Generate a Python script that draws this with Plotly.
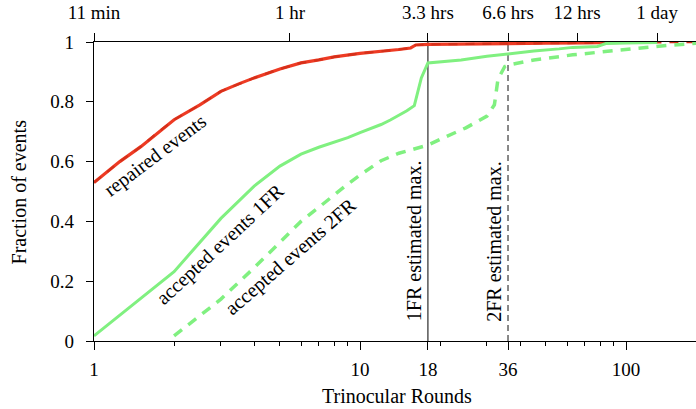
import plotly.graph_objects as go
import math

# ---- data ----
red_x = [1, 1.25, 1.5, 1.75, 2, 2.5, 3, 3.5, 4, 5, 6, 7, 8, 10, 12, 14, 15.5, 16.2, 18, 25, 36, 50, 70, 90, 110, 131]
red_y = [0.53, 0.60, 0.65, 0.70, 0.74, 0.79, 0.835, 0.86, 0.88, 0.91, 0.93, 0.94, 0.95, 0.962, 0.968, 0.975, 0.98, 0.99, 0.992, 0.994, 0.995, 0.996, 0.997, 0.998, 0.999, 1.0]
red2_x = red_x + [160, 200]
red2_y = red_y + [1.0, 1.0]

acc1_x = [1, 2, 3, 4, 5, 6, 7, 8, 9, 10, 11, 12, 13, 14, 15, 16, 17, 18, 24, 30, 36, 45, 56, 63, 78, 84, 100, 131]
acc1_y = [0.017, 0.232, 0.41, 0.518, 0.585, 0.625, 0.648, 0.665, 0.68, 0.697, 0.71, 0.724, 0.739, 0.755, 0.77, 0.787, 0.88, 0.93, 0.94, 0.952, 0.961, 0.97, 0.977, 0.982, 0.985, 0.995, 0.997, 0.998]

acc2_x = [2, 3, 4, 5, 6, 7, 8, 9, 10, 12, 14, 18, 21, 25, 30, 32, 33, 35, 36, 45, 63, 90, 126, 150, 200]
acc2_y = [0.017, 0.14, 0.245, 0.33, 0.40, 0.447, 0.49, 0.525, 0.555, 0.603, 0.628, 0.655, 0.683, 0.713, 0.752, 0.79, 0.875, 0.918, 0.923, 0.94, 0.957, 0.972, 0.984, 0.99, 0.998]

x_major = [1, 10, 18, 36, 100]
x_minor = [2, 3, 4, 5, 6, 7, 8, 9, 20, 30, 40, 50, 60, 70, 80, 90, 200]
y_ticks = [0, 0.2, 0.4, 0.6, 0.8, 1]
y_labels = ["0", "0.2", "0.4", "0.6", "0.8", "1"]
top_vals = [1, 60 / 11, 18, 36, 720 / 11, 1440 / 11]
top_text = ["11 min", "1 hr", "3.3 hrs", "6.6 hrs", "12 hrs", "1 day"]
est_max = [18, 36]

FONT = "Liberation Serif"
RED = "#EE3B24"
RED_D = "#D5301A"
GREEN = "#80F080"
XR = [0, 2.263]

fig = go.Figure()

# estimated max lines
fig.add_trace(go.Scatter(x=[est_max[0], est_max[0]], y=[0, 1], mode="lines",
                         line=dict(color="black", width=1), hoverinfo="skip", showlegend=False))
fig.add_trace(go.Scatter(x=[est_max[1], est_max[1]], y=[0, 1], mode="lines",
                         line=dict(color="#555555", width=1.4, dash="6px,4px"), hoverinfo="skip", showlegend=False))

fig.add_trace(go.Scatter(x=red_x, y=red_y, mode="lines", line=dict(color=RED, width=3.2),
                         showlegend=False))
fig.add_trace(go.Scatter(x=red2_x, y=red2_y, mode="lines", line=dict(color=RED_D, width=2.2, dash="9px,8px"),
                         showlegend=False))
fig.add_trace(go.Scatter(x=acc1_x, y=acc1_y, mode="lines", line=dict(color=GREEN, width=3),
                         showlegend=False))
fig.add_trace(go.Scatter(x=acc2_x, y=acc2_y, mode="lines", line=dict(color=GREEN, width=3.5, dash="10px,8px"),
                         showlegend=False))
# dummy trace for the top axis
fig.add_trace(go.Scatter(x=[1], y=[0], xaxis="x2", mode="lines", hoverinfo="skip", showlegend=False))

tickfont = dict(family=FONT, size=19, color="black")
fig.update_layout(
    width=696, height=409,
    margin=dict(l=94, r=0, t=42, b=68, autoexpand=False),
    paper_bgcolor="white", plot_bgcolor="white",
    xaxis=dict(type="log", range=XR, showgrid=False, zeroline=False, automargin=False,
               showline=True, linecolor="black", linewidth=1.2,
               tickmode="array", tickvals=x_major, ticktext=[str(v) for v in x_major],
               ticks="outside", ticklen=8, tickwidth=1, tickcolor="black",
               minor=dict(tickmode="array", tickvals=x_minor, ticks="outside", ticklen=4,
                          tickwidth=1, tickcolor="black", showgrid=False),
               tickfont=tickfont, ticklabelstandoff=3),
    xaxis2=dict(type="log", range=XR, overlaying="x", side="top", showgrid=False, zeroline=False,
                automargin=False,
                showline=True, linecolor="black", linewidth=1.2,
                tickmode="array", tickvals=top_vals, ticktext=top_text,
                ticks="outside", ticklen=8, tickwidth=1, tickcolor="black",
                tickfont=tickfont, ticklabelstandoff=6),
    yaxis=dict(range=[0, 1], showgrid=False, zeroline=False, automargin=False,
               showline=True, linecolor="black", linewidth=1.2,
               tickmode="array", tickvals=y_ticks, ticktext=y_labels,
               ticks="outside", ticklen=7, tickwidth=1, tickcolor="black",
               tickfont=tickfont, ticklabelstandoff=8),
)

tfont = dict(family=FONT, size=20, color="black")
annos = [
    ("repaired events", 1.696, 0.622, -37),
    ("accepted events 1FR", 2.98, 0.324, -43),
    ("accepted events 2FR", 5.51, 0.281, -41),
    ("1FR estimated max.", 15.96, 0.334, -90),
    ("2FR estimated max.", 32.0, 0.333, -90),
]
for txt, xv, yv, ang in annos:
    fig.add_annotation(text=txt, x=math.log10(xv), y=yv, xref="x", yref="y",
                       showarrow=False, textangle=ang, font=tfont)

fig.add_annotation(text="Fraction of events", x=-0.1246, y=0.5, xref="paper", yref="paper",
                   xanchor="center", yanchor="middle",
                   showarrow=False, textangle=-90, font=tfont)
fig.add_annotation(text="Trinocular Rounds", x=0.503, y=-0.184, xref="paper", yref="paper",
                   xanchor="center", yanchor="middle",
                   showarrow=False, font=tfont)

fig.write_html("out.html", config={"displayModeBar": False},
               post_script="document.body.style.margin='0';document.body.style.overflow='hidden';")
